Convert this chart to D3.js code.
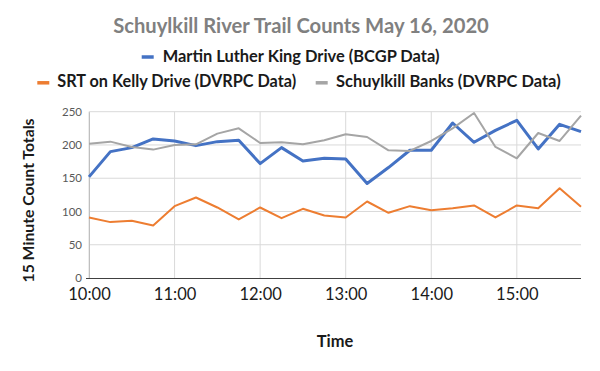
<!DOCTYPE html>
<html>
<head>
<meta charset="utf-8">
<script src="https://cdn.jsdelivr.net/npm/d3@7"></script>
<style>
  html, body { margin: 0; padding: 0; background: #fff; }
  svg { display: block; font-family: Lato, "Open Sans", sans-serif; }
</style>
</head>
<body>
<svg id="chart" width="600" height="371"></svg>
<script>
// ---- Data (15-minute intervals, 10:00 to 15:45) ----
const times = ["10:00","10:15","10:30","10:45","11:00","11:15","11:30","11:45",
               "12:00","12:15","12:30","12:45","13:00","13:15","13:30","13:45",
               "14:00","14:15","14:30","14:45","15:00","15:15","15:30","15:45"];
const mlk   = [152,190,196,209,206,199,205,207,172,196,176,180,179,142,166,192,192,233,204,222,237,194,231,220];
const kelly = [91,84,86,79,108,121,106,88,106,90,104,94,91,115,98,108,102,105,109,91,109,105,135,107];
const banks = [202,205,197,193,200,201,217,225,203,204,201,207,216,212,192,191,206,225,248,197,180,218,206,244];
const seriesNames = ["Martin Luther King Drive (BCGP Data)", "SRT on Kelly Drive (DVRPC Data)", "Schuylkill Banks (DVRPC Data)"];
const seriesColors = ["#4472C4", "#ED7D31", "#A5A5A5"];
const xTickLabels = ["10:00","11:00","12:00","13:00","14:00","15:00"];
const yTicks = [0,50,100,150,200,250];

const svg = d3.select("#chart");
const m = { left: 89, right: 581, top: 111.7, bottom: 278 };

const x = d3.scalePoint().domain(times).range([m.left, m.right]);
const y = d3.scaleLinear().domain([0, 250]).range([m.bottom, m.top]);

function fit(sel, target) {
  const w = sel.node().getComputedTextLength();
  const fs = parseFloat(sel.attr("font-size"));
  sel.attr("font-size", (fs * target / w).toFixed(2));
}

// gridlines
svg.append("g")
  .selectAll("line.h").data(yTicks.filter(d => d > 0)).join("line")
  .attr("x1", m.left).attr("x2", m.right)
  .attr("y1", d => y(d)).attr("y2", d => y(d))
  .attr("stroke", "#d9d9d9").attr("stroke-width", 1);
svg.append("g")
  .selectAll("line.v").data(xTickLabels).join("line")
  .attr("x1", d => x(d)).attr("x2", d => x(d))
  .attr("y1", m.top).attr("y2", m.bottom)
  .attr("stroke", "#d9d9d9").attr("stroke-width", 1);

// y axis
const yAxis = svg.append("g").attr("transform", `translate(${m.left},0)`)
  .call(d3.axisLeft(y).tickValues(yTicks).tickSize(0).tickPadding(7));
yAxis.select(".domain").attr("stroke", "#bfbfbf");
yAxis.selectAll("text").attr("font-family", "Lato, sans-serif").attr("font-size", 11.5).attr("fill", "#595959");

// x axis
const xAxis = svg.append("g").attr("transform", `translate(0,${m.bottom})`)
  .call(d3.axisBottom(x).tickValues(xTickLabels).tickSize(0).tickPadding(10));
xAxis.select(".domain").attr("stroke", "#404040").attr("stroke-width", 1.2)
  .attr("d", `M${m.left - 3},0.5H${m.right}`);
xAxis.selectAll("text").attr("font-family", "Lato, sans-serif").attr("font-size", 16.5).attr("fill", "#1a1a1a");

// lines
const line = d3.line().x((d, i) => x(times[i])).y(d => y(d));
const data = [mlk, kelly, banks];
const widths = [3, 2, 2];
data.forEach((s, k) => {
  svg.append("path").datum(s)
    .attr("d", line).attr("fill", "none")
    .attr("stroke", seriesColors[k]).attr("stroke-width", widths[k])
    .attr("stroke-linejoin", "round");
});

// title
const title = svg.append("text").attr("x", 301).attr("y", 33.3)
  .attr("text-anchor", "middle").attr("font-weight", "bold")
  .attr("font-size", 17.5).attr("fill", "#808080")
  .text("Schuylkill River Trail Counts May 16, 2020");
fit(title, 376);

// legend
const legendItems = [
  { name: seriesNames[0], color: seriesColors[0], mx: 141.7, tx: 162.7, y: 61.5, w: 277 },
  { name: seriesNames[1], color: seriesColors[1], mx: 37.3, tx: 57.3, y: 87.3, w: 239 },
  { name: seriesNames[2], color: seriesColors[2], mx: 315.7, tx: 336, y: 87.3, w: 225 }
];
legendItems.forEach(it => {
  svg.append("line").attr("x1", it.mx).attr("x2", it.mx + 12)
    .attr("y1", it.y - 4.5).attr("y2", it.y - 4.5)
    .attr("stroke", it.color).attr("stroke-width", 3.5);
  const t = svg.append("text").attr("x", it.tx).attr("y", it.y)
    .attr("font-weight", "bold").attr("font-size", 16).attr("fill", "#1a1a1a")
    .text(it.name);
  fit(t, it.w);
});

// axis titles
const xt = svg.append("text").attr("x", 335).attr("y", 347.3)
  .attr("text-anchor", "middle").attr("font-weight", "bold")
  .attr("font-size", 15.5).attr("fill", "#1a1a1a").text("Time");
fit(xt, 36.5);
const yt = svg.append("text")
  .attr("transform", "translate(34,200.5) rotate(-90)")
  .attr("text-anchor", "middle").attr("font-weight", "bold")
  .attr("font-size", 16).attr("fill", "#1a1a1a").text("15 Minute Count Totals");
fit(yt, 164);
</script>
</body>
</html>
